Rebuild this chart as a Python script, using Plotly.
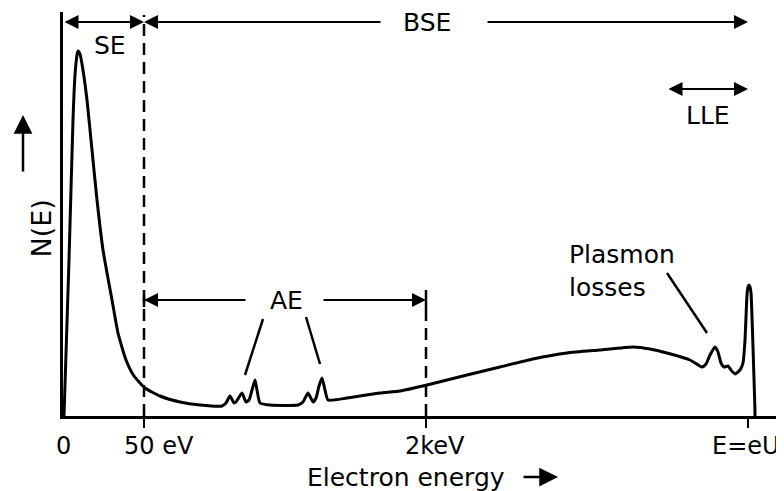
import plotly.graph_objects as go

# electron energy spectrum, schematic units (axis starts at 0)
energy = [1, 6, 10, 12, 14, 15, 17, 19, 22, 24, 29, 34, 40, 49, 55, 63, 71, 82, 97, 117,
          137, 159, 163, 167, 171, 173, 179, 183, 186, 189, 192, 194, 197, 207, 235, 240,
          245, 250, 253, 256, 259, 262, 265, 284, 317, 337, 364, 404, 437, 470, 504, 537,
          570, 587, 604, 627, 639, 643, 647, 652, 655, 658, 661, 665, 668, 672, 677, 680,
          682, 684, 685, 686, 687, 688, 690, 692, 692]
counts = [0, 156, 296, 341, 361, 365, 362, 352, 332, 316, 266, 216, 166, 116, 83, 56, 40, 28, 20, 14,
          11, 10, 13, 20, 13, 14, 23, 14, 16, 26, 36, 26, 13, 11, 11, 14,
          23, 14, 18, 30, 38, 26, 16, 18, 23, 25, 31, 41, 49, 57, 63, 66,
          69, 67, 63, 56, 49, 52, 61, 69, 64, 53, 49, 50, 46, 42, 46, 53,
          76, 121, 129, 131, 129, 123, 69, 4, 0]

tick_pos = [81, 363, 685]          # 50 eV, 2 keV, E = eU
label_pos = [0, 96, 372, 683]
label_text = ['0', '50 eV', '2keV', 'E=eU']

FONT = 'DejaVu Sans'
fig = go.Figure()
fig.add_trace(go.Scatter(
    x=energy, y=counts, mode='lines',
    line=dict(color='black', width=3, shape='spline', smoothing=0.5),
    hoverinfo='skip', showlegend=False))


def arrow(x0, y0, x1, y1, both=False):
    fig.add_annotation(
        x=x1, y=y1, ax=x0, ay=y0, xref='x', yref='y', axref='x', ayref='y',
        text='', showarrow=True, arrowhead=2, arrowsize=1.4, arrowwidth=2,
        arrowcolor='black', arrowside='end+start' if both else 'end',
        startarrowhead=2, startarrowsize=1.4)


def seg(x0, y0, x1, y1, dash='solid', width=2.5):
    fig.add_shape(type='line', x0=x0, y0=y0, x1=x1, y1=y1, xref='x', yref='y',
                  line=dict(color='black', width=width, dash=dash))


def label(x, y, txt, **kw):
    fig.add_annotation(x=x, y=y, xref='x', yref='y', text=txt, showarrow=False,
                       font=dict(family=FONT, size=25, color='black'), **kw)


# dashed boundaries
seg(81, 0, 81, 401, dash='12px,7px')
seg(363, 0, 363, 104, dash='12px,7px')
seg(363, 104, 363, 126)
seg(81, 109, 81, 121)

# SE / BSE
arrow(0, 394, 81, 394, both=True)
arrow(319, 394, 81, 394)
arrow(423, 394, 685, 394)
label(364, 394, 'BSE')
label(47, 371, 'SE')

# LLE
arrow(604, 327, 685, 327, both=True)
label(645, 301, 'LLE')

# AE
arrow(184, 116, 81, 116)
arrow(259, 116, 363, 116)
label(223, 116, 'AE')
seg(200, 97, 182, 41)
seg(243, 99, 257, 52)

# plasmon losses
label(504, 145, 'Plasmon<br>losses', xanchor='left', align='left')
seg(604, 143, 644, 83)

# x tick labels
for p, t in zip(label_pos, label_text):
    fig.add_annotation(x=p, y=0, xref='x', yref='paper', yshift=-30, yanchor='middle',
                       text=t, showarrow=False, font=dict(family=FONT, size=24, color='black'))

# axis titles with arrows
fig.add_annotation(x=343, y=0, xref='x', yref='paper', yshift=-61, yanchor='middle',
                   text='Electron energy', showarrow=False,
                   font=dict(family=FONT, size=25, color='black'))
fig.add_annotation(x=495, y=0, xref='x', yref='paper', yshift=-61, ax=-36, ay=0,
                   text='', showarrow=True, arrowhead=2, arrowsize=1.5, arrowwidth=2.5,
                   arrowcolor='black')
fig.add_annotation(x=0, y=187, xref='paper', yref='y', xshift=-40, textangle=-90,
                   text='N(E)', showarrow=False,
                   font=dict(family=FONT, size=27, color='black'))
fig.add_annotation(x=0, y=301, xref='paper', yref='y', xshift=-40, ax=0, ay=58,
                   text='', showarrow=True, arrowhead=2, arrowsize=1.5, arrowwidth=2.5,
                   arrowcolor='black')

fig.update_xaxes(range=[0, 721], showline=True, linecolor='black', linewidth=3,
                 showgrid=False, zeroline=False, tickvals=tick_pos, ticks='outside',
                 ticklen=9, tickwidth=2, tickcolor='black', showticklabels=False)
fig.update_yaxes(range=[0, 404], showline=True, linecolor='black', linewidth=3,
                 showgrid=False, zeroline=False, showticklabels=False, ticks='')
# the page body has an 8px margin, so the figure is 8px smaller on each side
fig.update_layout(width=776, height=483, margin=dict(l=55, r=0, t=4, b=75),
                  paper_bgcolor='white', plot_bgcolor='white',
                  font=dict(family=FONT, color='black'))

fig.write_html('out.html')
